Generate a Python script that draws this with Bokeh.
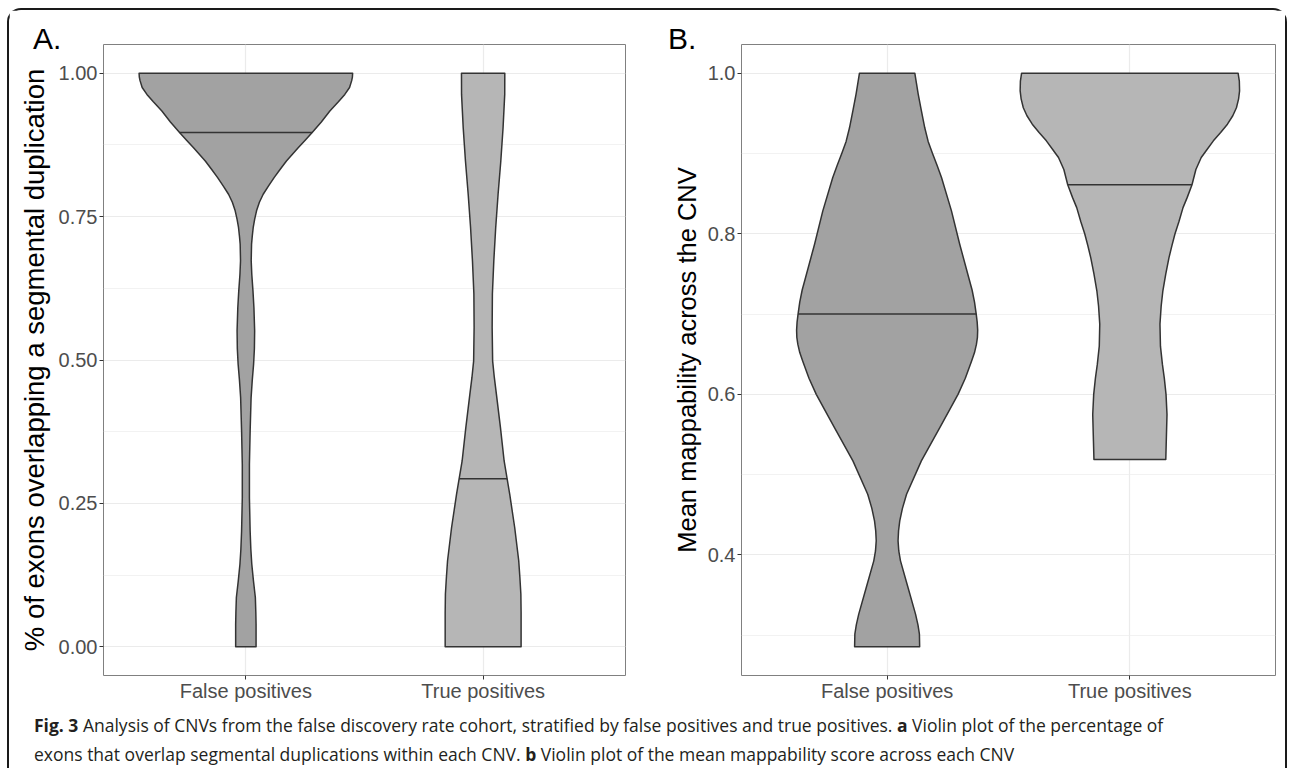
import numpy as np
from bokeh.plotting import figure
from bokeh.layouts import row, column
from bokeh.models import FactorRange, Range1d, FixedTicker, NumeralTickFormatter, Div
from bokeh.embed import file_html
from bokeh.resources import INLINE

categories = ["False positives", "True positives"]

# ---- Panel A: % of exons overlapping a segmental duplication (violin outlines: value, half-width in category units)
a_fp_y = [1.000, 0.993, 0.987, 0.975, 0.963, 0.950, 0.934, 0.915, 0.8965, 0.883, 0.870, 0.847, 0.832, 0.818,
          0.803, 0.789, 0.775, 0.760, 0.745, 0.731, 0.716, 0.702, 0.673, 0.649, 0.620, 0.591, 0.551, 0.520,
          0.4925, 0.465, 0.434, 0.376, 0.318, 0.260, 0.202, 0.170, 0.144, 0.115, 0.086, 0.060, 0.039, 0.000]
a_fp_w = [0.450, 0.449, 0.446, 0.437, 0.417, 0.390, 0.354, 0.318, 0.2795, 0.250, 0.2205, 0.171, 0.144, 0.119,
          0.095, 0.073, 0.057, 0.045, 0.037, 0.031, 0.027, 0.024, 0.0225, 0.025, 0.030, 0.034, 0.037, 0.036,
          0.0326, 0.027, 0.022, 0.018, 0.015, 0.015, 0.018, 0.021, 0.025, 0.032, 0.040, 0.042, 0.043, 0.043]
a_tp_y = [1.000, 0.963, 0.905, 0.847, 0.789, 0.731, 0.673, 0.615, 0.557, 0.4985, 0.470, 0.440, 0.382, 0.324,
          0.266, 0.208, 0.150, 0.120, 0.092, 0.060, 0.034, 0.000]
a_tp_w = [0.0913, 0.091, 0.084, 0.0745, 0.063, 0.053, 0.045, 0.039, 0.038, 0.040, 0.047, 0.056, 0.073, 0.0885,
          0.112, 0.133, 0.150, 0.155, 0.159, 0.160, 0.160, 0.160]
a_medians = [0.8965, 0.293]

# ---- Panel B: mean mappability across the CNV
b_fp_y = [1.000, 0.987, 0.974, 0.955, 0.932, 0.915, 0.900, 0.885, 0.870, 0.8285, 0.787, 0.7455, 0.730, 0.715,
          0.700, 0.690, 0.680, 0.671, 0.6625, 0.652, 0.6417, 0.620, 0.600, 0.580, 0.5587, 0.5172, 0.4757,
          0.458, 0.4425, 0.430, 0.4176, 0.405, 0.3927, 0.3595, 0.3263, 0.313, 0.3014, 0.2856]
b_fp_w = [0.114, 0.121, 0.128, 0.140, 0.155, 0.169, 0.187, 0.206, 0.224, 0.265, 0.299, 0.336, 0.350, 0.360,
          0.367, 0.371, 0.373, 0.372, 0.368, 0.360, 0.348, 0.322, 0.292, 0.256, 0.217, 0.141, 0.080,
          0.063, 0.052, 0.047, 0.045, 0.048, 0.055, 0.086, 0.117, 0.127, 0.133, 0.134]
b_tp_y = [1.000, 0.990, 0.978, 0.968, 0.957, 0.947, 0.9365, 0.926, 0.9157, 0.905, 0.895, 0.880, 0.861, 0.845,
          0.8326, 0.815, 0.800, 0.785, 0.770, 0.750, 0.729, 0.710, 0.6875, 0.660, 0.6376, 0.620, 0.600,
          0.575, 0.5417, 0.519]
b_tp_w = [0.446, 0.451, 0.452, 0.448, 0.439, 0.424, 0.402, 0.374, 0.344, 0.318, 0.294, 0.272, 0.256, 0.236,
          0.219, 0.202, 0.186, 0.173, 0.161, 0.148, 0.136, 0.129, 0.124, 0.126, 0.134, 0.142, 0.149,
          0.153, 0.150, 0.148]
b_medians = [0.700, 0.861]

a_ticks = [0.0, 0.25, 0.5, 0.75, 1.0]
a_minor = [0.125, 0.375, 0.625, 0.875]
b_ticks = [0.4, 0.6, 0.8, 1.0]
b_minor = [0.3, 0.5, 0.7, 0.9]

fills = ["#a2a2a2", "#b6b6b6"]
FONT = "Liberation Sans"


def make_panel(width, mb_left, mb_right, yr, ticks, minor, fmt, ylabel, label_size, violins, medians, standoff):
    p = figure(width=width, height=701,
               x_range=FactorRange(factors=categories, range_padding=0.1, range_padding_units="absolute"),
               y_range=Range1d(*yr), output_backend="svg", toolbar_location=None,
               min_border_left=mb_left, min_border_right=mb_right, min_border_top=34, min_border_bottom=36)
    for i, (vy, vw) in enumerate(violins):
        center = i + 0.5  # synthetic coordinate of factor i on the FactorRange
        y = np.array(vy)
        w = np.array(vw)
        xs = np.concatenate([center - w, (center + w)[::-1]])
        ys = np.concatenate([y, y[::-1]])
        p.patch(xs, ys, fill_color=fills[i], line_color="#333333", line_width=1.5, line_join="round")
        order = np.argsort(y)
        wm = np.interp(medians[i], y[order], w[order])
        p.segment(x0=[center - wm], x1=[center + wm], y0=[medians[i]], y1=[medians[i]],
                  line_color="#333333", line_width=1.6)

    p.yaxis.ticker = FixedTicker(ticks=ticks, minor_ticks=minor)
    p.ygrid.ticker = FixedTicker(ticks=ticks, minor_ticks=minor)
    p.yaxis.formatter = NumeralTickFormatter(format=fmt)
    p.yaxis.axis_label = ylabel
    p.yaxis.axis_label_text_font = FONT
    p.yaxis.axis_label_text_font_size = label_size
    p.yaxis.axis_label_text_font_style = "normal"
    p.yaxis.axis_label_text_color = "black"
    p.yaxis.axis_label_standoff = standoff
    for ax in (p.xaxis[0], p.yaxis[0]):
        ax.major_label_text_font = FONT
        ax.major_label_text_font_size = "20px"
        ax.major_label_text_color = "#4d4d4d"
        ax.major_tick_out = 4
        ax.major_tick_in = 0
        ax.major_tick_line_color = "#333333"
        ax.minor_tick_line_color = None
        ax.axis_line_color = None
        ax.major_label_standoff = 2
    p.xaxis.major_label_standoff = 0
    p.xgrid.grid_line_color = "#ebebeb"
    p.xgrid.grid_line_width = 1.2
    p.ygrid.grid_line_color = "#ebebeb"
    p.ygrid.grid_line_width = 1.2
    p.ygrid.minor_grid_line_color = "#ededed"
    p.ygrid.minor_grid_line_width = 0.7
    p.outline_line_color = "#808080"
    p.outline_line_width = 1
    return p


pA = make_panel(641, 94, 25, (-0.05, 1.05), a_ticks, a_minor, "0.00",
                "% of exons overlapping a segmental duplication", "27.5px",
                [(a_fp_y, a_fp_w), (a_tp_y, a_tp_w)], a_medians, 6)
pB = make_panel(635, 91, 10, (0.2499, 1.0357), b_ticks, b_minor, "0.0",
                "Mean mappability across the CNV", "25.5px",
                [(b_fp_y, b_fp_w), (b_tp_y, b_tp_w)], b_medians, 4)

letter_css = ("position:absolute;font-family:'Liberation Sans';font-size:30px;line-height:30px;"
              "color:#000;white-space:nowrap;")
caption_text = (
    '<div style="position:relative">'
    f'<span style="{letter_css}left:-1px;top:-687px">A.</span>'
    f'<span style="{letter_css}left:634px;top:-687px">B.</span>'
    "<b>Fig. 3</b> Analysis of CNVs from the false discovery rate cohort, stratified by false "
    "positives and true positives. <b>a</b> Violin plot of the percentage of<br>exons that overlap "
    "segmental duplications within each CNV. <b>b</b> Violin plot of the mean mappability score "
    "across each CNV</div>")
caption = Div(text=caption_text, width=1245, height=57, margin=(0, 0, 0, 25),
              styles={"font-family": "Open Sans", "font-size": "17.5px", "line-height": "29px",
                      "color": "#231f20", "white-space": "nowrap", "overflow": "visible"})

layout = column(row(pA, pB), caption, margin=(8, 0, 0, 7),
                styles={"border": "2px solid #1a1a1a", "border-bottom": "none",
                        "border-radius": "14px 14px 0 0"})

open("out.html", "w").write(file_html(layout, INLINE))
